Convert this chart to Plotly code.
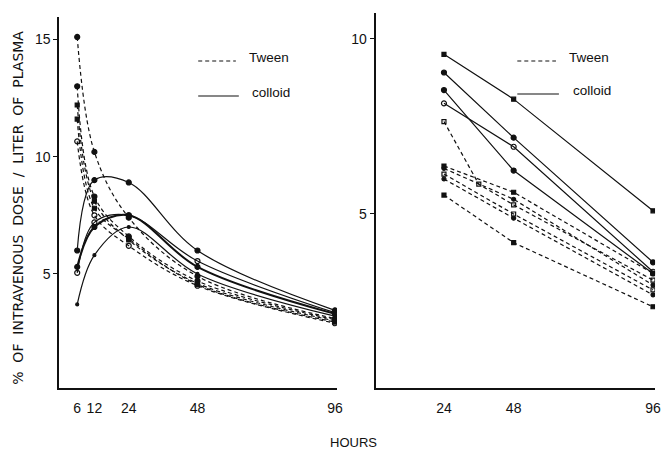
import plotly.graph_objects as go

W, H = 666, 453

# ---------------- data ----------------
hours_left = [6, 12, 24, 48, 96]
hours_right = [24, 48, 96]
hours_right_extra = [24, 36, 48, 96]

left_tween_a = [15.1, 10.2, 7.4, 4.9, 3.1]
left_tween_b = [13.0, 8.3, 6.6, 4.7, 3.05]
left_tween_c = [12.2, 8.1, 6.45, 4.6, 3.0]
left_tween_d = [11.6, 7.8, 6.5, 4.55, 2.95]
left_tween_e = [10.65, 7.5, 6.2, 4.5, 2.9]

left_colloid_a = [6.0, 9.0, 8.9, 6.0, 3.45]
left_colloid_b = [5.3, 7.0, 7.5, 5.3, 3.3]
left_colloid_c = [5.05, 7.2, 7.5, 5.55, 3.35]
left_colloid_d = [3.7, 5.8, 7.0, 5.0, 3.2]

right_colloid_a = [9.56, 8.28, 5.09]
right_colloid_b = [9.04, 7.18, 3.62]
right_colloid_c = [8.54, 6.24, 3.30]
right_colloid_d = [8.16, 6.92, 3.35]

right_tween_a = [7.64, 5.85, 5.26, 3.11]
right_tween_b = [6.37, 5.62, 3.30]
right_tween_c = [6.30, 5.42, 2.97]
right_tween_d = [6.14, 5.00, 2.83]
right_tween_e = [6.00, 4.88, 2.69]
right_tween_f = [5.54, 4.18, 2.35]

left_yticks = [5, 10, 15]
right_yticks = [5, 10]
right_xticks = [24, 48, 96]

# ---------------- style ----------------
INK = "#111111"
FONT = "Liberation Sans"
DASH = "4px,3px"


def px_x(p):
    return p / W


def px_y(p):
    return 1 - p / H


fig = go.Figure()


def add(xs, ys, dash, symbol, axis, shape, width=1.2, msize=5):
    fig.add_trace(go.Scatter(
        x=xs, y=ys, mode="lines+markers",
        line=dict(color=INK, width=width, dash=dash, shape=shape, smoothing=1.0),
        marker=dict(color=INK, symbol=symbol, size=msize,
                    line=dict(color=INK, width=1.2)),
        xaxis=axis[0], yaxis=axis[1], showlegend=False, hoverinfo="skip",
    ))


L = ("x", "y")
R = ("x2", "y2")

# left panel (smoothed curves)
add(hours_left, left_tween_a, DASH, "circle", L, "spline")
add(hours_left, left_tween_b, DASH, "circle", L, "spline")
add(hours_left, left_tween_c, DASH, "square", L, "spline", msize=4)
add(hours_left, left_tween_d, DASH, "square", L, "spline", msize=4)
add(hours_left, left_tween_e, DASH, "circle-open", L, "spline")
add(hours_left, left_colloid_a, "solid", "circle", L, "spline")
add(hours_left, left_colloid_b, "solid", "circle", L, "spline", width=2)
add(hours_left, left_colloid_c, "solid", "circle-open", L, "spline")
add(hours_left, left_colloid_d, "solid", "circle", L, "spline", msize=3)

# right panel (straight segments)
add(hours_right, right_colloid_a, "solid", "square", R, "linear", msize=4)
add(hours_right, right_colloid_b, "solid", "circle", R, "linear")
add(hours_right, right_colloid_c, "solid", "circle", R, "linear")
add(hours_right, right_colloid_d, "solid", "circle-open", R, "linear")
add(hours_right_extra, right_tween_a, DASH, "square-open", R, "linear", msize=4)
add(hours_right, right_tween_b, DASH, "square", R, "linear", msize=4)
add(hours_right, right_tween_c, DASH, "circle", R, "linear", msize=4)
add(hours_right, right_tween_d, DASH, "square-open", R, "linear", msize=4)
add(hours_right, right_tween_e, DASH, "circle", R, "linear", msize=4)
add(hours_right, right_tween_f, DASH, "square", R, "linear", msize=4)

axis_common = dict(showgrid=False, zeroline=False, showline=True,
                   linecolor=INK, linewidth=2, color=INK,
                   tickfont=dict(family=FONT, size=14, color=INK))

fig.update_layout(
    width=W, height=H,
    margin=dict(l=0, r=0, t=0, b=0),
    paper_bgcolor="white", plot_bgcolor="white",
    font=dict(family=FONT, color=INK),
    xaxis=dict(domain=[px_x(60), px_x(340)], range=[-0.2, 96.7],
               tickvals=hours_left, ticks="", ticklabelstandoff=6,
               anchor="y", **axis_common),
    yaxis=dict(domain=[px_y(388), px_y(17)], range=[0.14, 15.95],
               tickvals=left_yticks, ticks="outside", ticklen=4, tickwidth=1,
               tickcolor=INK, anchor="x", **axis_common),
    xaxis2=dict(domain=[px_x(379), px_x(661)], range=[0.45, 96.7],
                tickvals=right_xticks, ticks="", ticklabelstandoff=6,
                anchor="y2", **axis_common),
    yaxis2=dict(domain=[px_y(388), px_y(13)], range=[0.03, 10.74],
                tickvals=right_yticks, ticks="outside", ticklen=4, tickwidth=1,
                tickcolor=INK, anchor="x2", **axis_common),
)

shapes = []
annotations = []


def legend(x0, x1, ydash, ysolid, xtext_t, ytext_t, xtext_c, ytext_c):
    shapes.append(dict(type="line", xref="paper", yref="paper",
                       x0=px_x(x0), x1=px_x(x1), y0=px_y(ydash), y1=px_y(ydash),
                       line=dict(color=INK, width=1.2, dash=DASH)))
    shapes.append(dict(type="line", xref="paper", yref="paper",
                       x0=px_x(x0), x1=px_x(x1 + 3), y0=px_y(ysolid), y1=px_y(ysolid),
                       line=dict(color=INK, width=1.2)))
    annotations.append(dict(text="Tween", xref="paper", yref="paper",
                            x=px_x(xtext_t), y=px_y(ytext_t), xanchor="left",
                            yanchor="middle", showarrow=False,
                            font=dict(family=FONT, size=13.5, color=INK)))
    annotations.append(dict(text="colloid", xref="paper", yref="paper",
                            x=px_x(xtext_c), y=px_y(ytext_c), xanchor="left",
                            yanchor="middle", showarrow=False,
                            font=dict(family=FONT, size=13.5, color=INK)))


legend(200, 238, 61, 96, 249, 58, 252, 92)
legend(522, 561, 61, 94, 572, 58, 576, 90)

sp = "\u00a0\u00a0"
ytitle = sp.join(["%", "OF", "INTRAVENOUS", "DOSE", "/", "LITER", "OF", "PLASMA"])
annotations.append(dict(text=ytitle, xref="paper", yref="paper",
                        x=px_x(18), y=px_y(208), textangle=-90,
                        xanchor="center", yanchor="middle", showarrow=False,
                        font=dict(family="DejaVu Sans", size=14, color=INK)))
annotations.append(dict(text="HOURS", xref="paper", yref="paper",
                        x=px_x(357), y=px_y(442), xanchor="center",
                        yanchor="middle", showarrow=False,
                        font=dict(family=FONT, size=13, color=INK)))

fig.update_layout(shapes=shapes, annotations=annotations)

fig.write_html(
    "out.html",
    config={"displayModeBar": False, "staticPlot": True},
    post_script="document.body.style.margin='0';document.body.style.padding='0';"
                "document.body.style.overflow='hidden';",
)
